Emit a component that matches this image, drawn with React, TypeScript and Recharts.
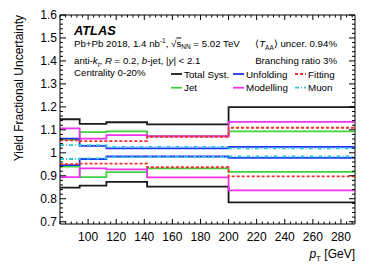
import React from 'react';
import { LineChart, Line, XAxis, YAxis, ReferenceLine, Legend } from 'recharts';

// pT bin edges [GeV]
const binEdges = [80, 94, 113, 142, 200, 290];

// relative uncertainty bands per bin (upper / lower edge)
const totalUp = [1.146, 1.126, 1.133, 1.124, 1.199];
const totalDown = [0.848, 0.857, 0.873, 0.853, 0.784];
const jetUp = [1.057, 1.09, 1.093, 1.072, 1.093];
const jetDown = [0.94, 0.894, 0.916, 0.932, 0.917];
const unfoldingUp = [1.062, 1.03, 1.019, 1.019, 1.026];
const unfoldingDown = [0.946, 0.973, 0.984, 0.984, 0.978];
const modellingUp = [1.106, 1.062, 1.077, 1.072, 1.135];
const modellingDown = [0.894, 0.932, 0.928, 0.893, 0.836];
const fittingUp = [1.054, 1.051, 1.051, 1.07, 1.109];
const fittingDown = [0.951, 0.953, 0.953, 0.937, 0.897];
const muonUp = [1.033, 1.033, 1.026, 1.026, 1.019];
const muonDown = [0.973, 0.976, 0.981, 0.982, 0.984];

const xMajorTicks = [100, 120, 140, 160, 180, 200, 220, 240, 260, 280];
const yMajorTicks = [0.7, 0.8, 0.9, 1, 1.1, 1.2, 1.3, 1.4, 1.5, 1.6];

const legendOrder = ['Total Syst.', 'Unfolding', 'Fitting', 'Jet', 'Modelling', 'Muon'];

const W = 374;
const H = 270;
const PLOT = { left: 60, right: 355, top: 15, bottom: 224 };
const FONT = '"Liberation Sans", Arial, Helvetica, sans-serif';

const series = [
  { key: 'total', name: 'Total Syst.', color: '#1a1a1a', dash: undefined, up: totalUp, down: totalDown },
  { key: 'jet', name: 'Jet', color: '#3fd23f', dash: undefined, up: jetUp, down: jetDown },
  { key: 'unfolding', name: 'Unfolding', color: '#1f36f5', dash: undefined, up: unfoldingUp, down: unfoldingDown },
  { key: 'modelling', name: 'Modelling', color: '#f032f0', dash: undefined, up: modellingUp, down: modellingDown },
  { key: 'fitting', name: 'Fitting', color: '#f03030', dash: '3 2', up: fittingUp, down: fittingDown },
  { key: 'muon', name: 'Muon', color: '#2cc6d6', dash: '4 2 1 2', up: muonUp, down: muonDown },
];

// one row per bin edge; the last edge repeats the last bin so the step reaches the frame
const data = binEdges.map((pt, i) => {
  const row: Record<string, number> = { pt };
  const b = Math.min(i, binEdges.length - 2);
  series.forEach((s) => {
    row[s.key + 'Up'] = s.up[b];
    row[s.key + 'Down'] = s.down[b];
  });
  return row;
});

const xMinorTicks: number[] = [];
for (let v = 80; v <= 290; v += 4) xMinorTicks.push(v);
const yMinorTicks: number[] = [];
for (let v = 70; v <= 160; v += 2) yMinorTicks.push(v / 100);

function XTick(props: any) {
  const { x, payload } = props;
  const major = xMajorTicks.includes(payload.value);
  const len = major ? 5 : 2.5;
  return (
    <g>
      <line x1={x} x2={x} y1={PLOT.bottom} y2={PLOT.bottom - len} stroke="#000" />
      <line x1={x} x2={x} y1={PLOT.top} y2={PLOT.top + len} stroke="#000" />
      {major && (
        <text x={x} y={PLOT.bottom + 16.5} textAnchor="middle" fontSize={12} fontFamily={FONT} fill="#000">
          {payload.value}
        </text>
      )}
    </g>
  );
}

function YTick(props: any) {
  const { y, payload } = props;
  const major = yMajorTicks.some((t) => Math.abs(t - payload.value) < 1e-6);
  const len = major ? 6 : 3;
  return (
    <g>
      <line x1={PLOT.left} x2={PLOT.left + len} y1={y} y2={y} stroke="#000" />
      <line x1={PLOT.right} x2={PLOT.right - len} y1={y} y2={y} stroke="#000" />
      {major && (
        <text x={PLOT.left - 3} y={y + 4.3} textAnchor="end" fontSize={12} fontFamily={FONT} fill="#000">
          {String(Math.round(payload.value * 10) / 10)}
        </text>
      )}
    </g>
  );
}

function AtlasLegend(props: any) {
  const payload = props.payload || [];
  const items = legendOrder.map((n) => payload.find((p: any) => p.value === n)).filter(Boolean);
  return (
    <svg width={200} height={30} style={{ overflow: 'visible' }}>
      {items.map((it: any, i: number) => {
        const cx = (i % 3) * 62;
        const cy = 8 + Math.floor(i / 3) * 13.7;
        return (
          <g key={it.value}>
            <line
              x1={cx}
              x2={cx + 11}
              y1={cy}
              y2={cy}
              stroke={it.color}
              strokeWidth={1.8}
              strokeDasharray={it.payload?.strokeDasharray}
            />
            <text x={cx + 13} y={cy + 3.6} fontSize={9.8} fontFamily={FONT} fill="#000">
              {it.value}
            </text>
          </g>
        );
      })}
    </svg>
  );
}

function Annotations() {
  const fs = 9.7;
  return (
    <svg width={W} height={H} style={{ position: 'absolute', left: 0, top: 0, pointerEvents: 'none' }} fontFamily={FONT}>
      <text x={74} y={35} fontSize={12.8} fontWeight="bold" fontStyle="italic">ATLAS</text>
      <text x={74} y={46.5} fontSize={fs}>
        Pb+Pb 2018, 1.4 nb
        <tspan dy={-3.5} fontSize={6.5}>-1</tspan>
        <tspan dy={3.5}>, √</tspan>
        <tspan textDecoration="overline">s</tspan>
        <tspan dy={2.5} fontSize={6.5}>NN</tspan>
        <tspan dy={-2.5}> = 5.02 TeV</tspan>
      </text>
      <text x={337} y={47} fontSize={fs} textAnchor="end">
        ⟨<tspan fontStyle="italic">T</tspan>
        <tspan dy={2.5} fontSize={6.5}>AA</tspan>
        <tspan dy={-2.5}>⟩ uncer. 0.94%</tspan>
      </text>
      <text x={74} y={64} fontSize={fs}>
        anti-<tspan fontStyle="italic">k</tspan>
        <tspan dy={2.5} fontSize={6.5} fontStyle="italic">t</tspan>
        <tspan dy={-2.5}>, </tspan>
        <tspan fontStyle="italic">R</tspan> = 0.2, <tspan fontStyle="italic">b</tspan>-jet, |
        <tspan fontStyle="italic">y</tspan>| &lt; 2.1
      </text>
      <text x={337} y={63.5} fontSize={fs} textAnchor="end">Branching ratio 3%</text>
      <text x={74} y={75.5} fontSize={fs}>Centrality 0-20%</text>
      <text transform="rotate(-90)" x={-PLOT.top} y={23} fontSize={12} textAnchor="end">
        Yield Fractional Uncertainty
      </text>
      <text x={PLOT.right} y={258} fontSize={12} textAnchor="end">
        <tspan fontStyle="italic">p</tspan>
        <tspan dy={2.5} fontSize={8}>T</tspan>
        <tspan dy={-2.5}> [GeV]</tspan>
      </text>
    </svg>
  );
}

export default function App() {
  return (
    <div style={{ position: 'absolute', left: 0, top: 0, width: W, height: H, background: '#fff' }}>
      <LineChart width={W} height={H} data={data} margin={{ top: PLOT.top, right: W - PLOT.right, bottom: 0, left: 0 }}>
        <XAxis
          dataKey="pt"
          type="number"
          domain={[80, 290]}
          ticks={xMinorTicks}
          interval={0}
          tick={<XTick />}
          tickLine={false}
          height={H - PLOT.bottom}
          axisLine={{ stroke: '#000' }}
          allowDataOverflow
        />
        <YAxis
          type="number"
          domain={[0.69, 1.6]}
          ticks={yMinorTicks}
          interval={0}
          tick={<YTick />}
          tickLine={false}
          width={PLOT.left}
          axisLine={{ stroke: '#000' }}
          allowDataOverflow
        />
        <ReferenceLine y={1.6} stroke="#000" />
        <ReferenceLine x={290} stroke="#000" />
        {series.map((s) => (
          <Line
            key={s.key + 'Up'}
            dataKey={s.key + 'Up'}
            name={s.name}
            type="stepAfter"
            stroke={s.color}
            strokeWidth={1.8}
            strokeDasharray={s.dash}
            dot={false}
            activeDot={false}
            isAnimationActive={false}
          />
        ))}
        {series.map((s) => (
          <Line
            key={s.key + 'Down'}
            dataKey={s.key + 'Down'}
            name={s.name + ' '}
            legendType="none"
            type="stepAfter"
            stroke={s.color}
            strokeWidth={1.8}
            strokeDasharray={s.dash}
            dot={false}
            activeDot={false}
            isAnimationActive={false}
          />
        ))}
        <Legend
          layout="horizontal"
          verticalAlign="middle"
          content={<AtlasLegend />}
          wrapperStyle={{ position: 'absolute', left: 171, top: 66, width: 200, height: 30 }}
        />
      </LineChart>
      <Annotations />
    </div>
  );
}
